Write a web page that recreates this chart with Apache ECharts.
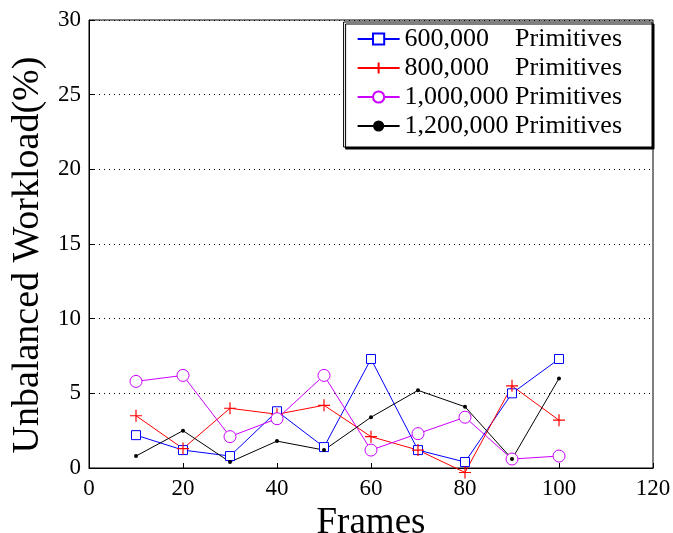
<!DOCTYPE html>
<html>
<head>
<meta charset="utf-8">
<script src="https://cdn.jsdelivr.net/npm/echarts@6/dist/echarts.min.js"></script>
<style>
  html, body { margin: 0; padding: 0; background: #fff; }
  #chart { width: 673px; height: 533px; }
</style>
</head>
<body>
<div id="chart"></div>
<script>
const frames = [10, 20, 30, 40, 50, 60, 70, 80, 90, 100];
const p600k = [2.2, 1.2, 0.8, 3.8, 1.4, 7.3, 1.2, 0.4, 5.0, 7.3];
const p800k = [3.5, 1.3, 4.0, 3.6, 4.2, 2.1, 1.2, -0.3, 5.5, 3.2];
const p1000k = [5.8, 6.2, 2.1, 3.3, 6.2, 1.2, 2.3, 3.4, 0.6, 0.8];
const p1200k = [0.8, 2.5, 0.4, 1.8, 1.2, 3.4, 5.2, 4.1, 0.6, 6.0];
const names = ['600,000    Primitives', '800,000    Primitives', '1,000,000 Primitives', '1,200,000 Primitives'];
const xTicks = [0, 20, 40, 60, 80, 100, 120];
const yTicks = [0, 5, 10, 15, 20, 25, 30];

const serif = '"Liberation Serif", "DejaVu Serif", serif';
const plus = 'path://M5,0L5,10M0,5L10,5';

const pair = arr => arr.map((v, i) => [frames[i], v]);

const chart = echarts.init(document.getElementById('chart'));
chart.setOption({
  animation: false,
  backgroundColor: '#fff',
  grid: {
    left: 89, right: 20, top: 20, bottom: 65,
    outerBoundsMode: 'none',
    containLabel: false,
    show: true, borderColor: '#000', borderWidth: 1
  },
  legend: {
    orient: 'vertical',
    right: 21, top: 22,
    padding: [4, 30, 8, 13],
    itemGap: 3,
    itemWidth: 42, itemHeight: 14,
    backgroundColor: '#fff',
    borderColor: '#000', borderWidth: 1,
    shadowColor: '#000', shadowOffsetX: 2, shadowOffsetY: 2,
    textStyle: { fontFamily: serif, fontSize: 26, color: '#000' },
    data: names
  },
  xAxis: {
    type: 'value',
    min: xTicks[0], max: xTicks[xTicks.length - 1], interval: 20,
    name: 'Frames', nameLocation: 'middle', nameGap: 37,
    nameTextStyle: { fontFamily: serif, fontSize: 37, color: '#000' },
    axisLine: { lineStyle: { color: '#000' } },
    axisTick: { inside: true, length: 5, lineStyle: { color: '#000' } },
    axisLabel: { fontFamily: serif, fontSize: 23, color: '#000', margin: 9 },
    splitLine: { show: false }
  },
  yAxis: {
    type: 'value',
    min: yTicks[0], max: yTicks[yTicks.length - 1], interval: 5,
    name: 'Unbalanced Workload(%)', nameLocation: 'middle', nameGap: 33,
    nameTextStyle: { fontFamily: serif, fontSize: 38, color: '#000', padding: [0, 22, 0, 0] },
    axisLine: { lineStyle: { color: '#000' } },
    axisTick: { inside: true, length: 5, lineStyle: { color: '#000' } },
    axisLabel: { fontFamily: serif, fontSize: 23, color: '#000', margin: 8 },
    splitLine: { show: true, lineStyle: { color: '#000', type: [1, 4], width: 1 } }
  },
  series: [
    {
      name: names[0], type: 'line', data: pair(p600k),
      symbol: 'rect', symbolSize: 9,
      lineStyle: { color: '#0000ff', width: 1 },
      itemStyle: { color: '#fff', borderColor: '#0000ff', borderWidth: 1 }
    },
    {
      name: names[1], type: 'line', data: pair(p800k), clip: false,
      symbol: plus, symbolSize: 12,
      lineStyle: { color: '#ff0000', width: 1 },
      itemStyle: { color: 'none', borderColor: '#ff0000', borderWidth: 1.2 }
    },
    {
      name: names[2], type: 'line', data: pair(p1000k),
      symbol: 'circle', symbolSize: 12,
      lineStyle: { color: '#cc00ff', width: 1 },
      itemStyle: { color: '#fff', borderColor: '#cc00ff', borderWidth: 1 }
    },
    {
      name: names[3], type: 'line', data: pair(p1200k),
      symbol: 'circle', symbolSize: 4,
      lineStyle: { color: '#000', width: 1 },
      itemStyle: { color: '#000', borderColor: '#000', borderWidth: 0 }
    }
  ]
});
</script>
</body>
</html>
